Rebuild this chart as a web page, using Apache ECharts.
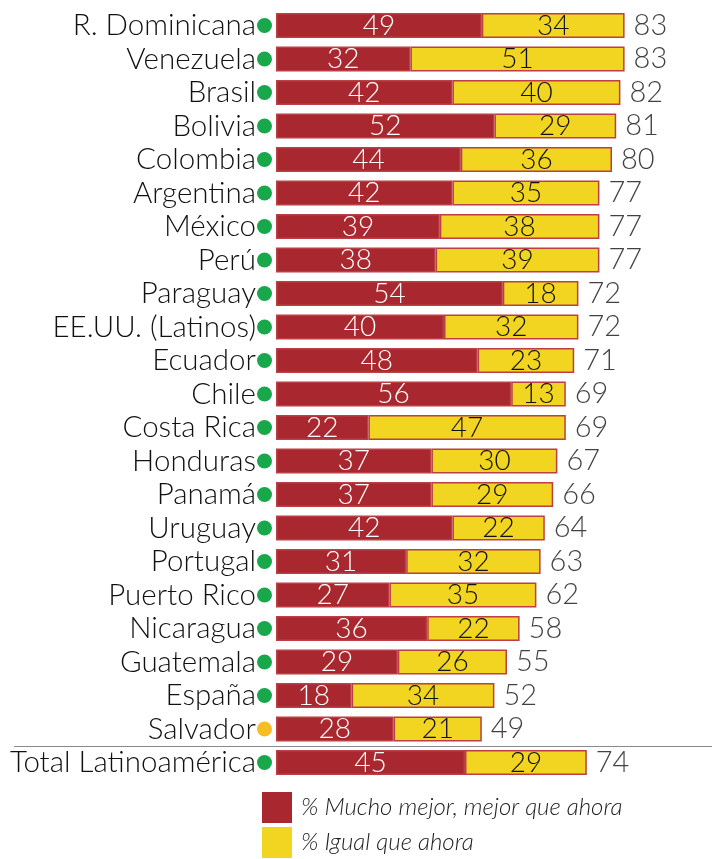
<!DOCTYPE html>
<html><head><meta charset="utf-8">
<script src="https://cdn.jsdelivr.net/npm/echarts@6/dist/echarts.min.js"></script>
<style>html,body{margin:0;padding:0;background:#fff}#c{width:712px;height:859px}</style>
</head><body><div id="c"></div>
<script>
const categories = ["R. Dominicana","Venezuela","Brasil","Bolivia","Colombia","Argentina","México","Perú","Paraguay","EE.UU. (Latinos)","Ecuador","Chile","Costa Rica","Honduras","Panamá","Uruguay","Portugal","Puerto Rico","Nicaragua","Guatemala","España","Salvador","Total Latinoamérica"];
const mejor = [49,32,42,52,44,42,39,38,54,40,48,56,22,37,37,42,31,27,36,29,18,28,45];
const igual = [34,51,40,29,36,35,38,39,18,32,23,13,47,30,29,22,32,35,22,26,34,21,29];
const totals = [83,83,82,81,80,77,77,77,72,72,71,69,69,67,66,64,63,62,58,55,52,49,74];
const dotColors = ["g","g","g","g","g","g","g","g","g","g","g","g","g","g","g","g","g","g","g","g","g","o","g"];
const seriesNames = ["% Mucho mejor, mejor que ahora","% Igual que ahora"];

const RED = '#A9282F', YEL = '#F2D521', BORDER = '#BB3F44';
const FONT = 'Lato';
const chart = echarts.init(document.getElementById('c'), null, {renderer:'canvas'});
chart.setOption({
  animation:false,
  textStyle:{fontFamily:FONT},
  grid:{left:276, top:8.75, width:420, height:770.5, containLabel:false},
  xAxis:{type:'value', min:0, max:100, show:false},
  yAxis:{type:'category', data:categories, inverse:true,
    axisLine:{show:false}, axisTick:{show:false},
    axisLabel:{margin:4, formatter:(v,i)=>'{t|'+v+'}{'+dotColors[i]+'|}',
      rich:{
        t:{fontFamily:FONT, fontWeight:300, fontSize:29.5, color:'#111', padding:[0,1,0,0]},
        g:{width:15,height:15,borderRadius:7.5,backgroundColor:'#18A84B'},
        o:{width:15,height:15,borderRadius:7.5,backgroundColor:'#F7BD22'}
      }}
  },
  legend:{orient:'vertical', left:262, top:792, height:67, padding:0, itemWidth:30, itemHeight:31, itemGap:4,
    icon:'rect', itemStyle:{borderWidth:0},
    textStyle:{fontFamily:FONT, fontStyle:'italic', fontWeight:300, fontSize:24, color:'#222', padding:[0,0,0,4]},
    data:seriesNames},
  series:[
    {name:seriesNames[0], type:'bar', stack:'s', barWidth:25, data:mejor,
      itemStyle:{color:RED, borderColor:BORDER, borderWidth:1.5},
      label:{show:true, position:'inside', color:'#fff', fontFamily:FONT, fontWeight:300, fontSize:28}},
    {name:seriesNames[1], type:'bar', stack:'s', barWidth:25, data:igual,
      itemStyle:{color:YEL, borderColor:BORDER, borderWidth:1.5},
      label:{show:true, position:'inside', color:'#111', fontFamily:FONT, fontWeight:300, fontSize:28}},
    {name:'total', type:'scatter', symbolSize:0, data:totals.map((t,i)=>[t,i]),
      label:{show:true, position:'right', distance:9, formatter:p=>p.value[0], color:'#111', fontFamily:FONT, fontWeight:300, fontSize:29}}
  ],
  graphic:[{type:'line', shape:{x1:14,y1:746.5,x2:712,y2:746.5}, style:{stroke:'#8a8a8a', lineWidth:1.2}}]
});
</script></body></html>
